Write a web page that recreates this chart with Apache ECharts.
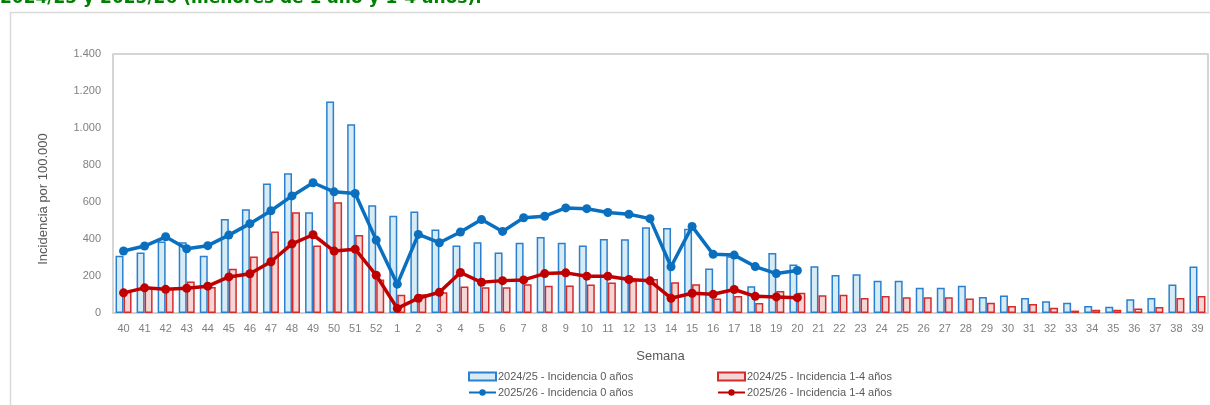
<!DOCTYPE html>
<html>
<head>
<meta charset="utf-8">
<script src="https://cdn.jsdelivr.net/npm/echarts@6/dist/echarts.min.js"></script>
<style>
html,body{margin:0;padding:0;background:#fff;}
#chart{width:1210px;height:405px;}
</style>
</head>
<body>
<div id="chart"></div>
<script>
var titleText = '2024/25 y 2025/26 (menores de 1 año y 1-4 años).';
var weeks = ['40','41','42','43','44','45','46','47','48','49','50','51','52','1','2','3','4','5','6','7','8','9','10','11','12','13','14','15','16','17','18','19','20','21','22','23','24','25','26','27','28','29','30','31','32','33','34','35','36','37','38','39'];
var yTicks = [0, 200, 400, 600, 800, 1000, 1200, 1400];
var seriesNames = ['2024/25 - Incidencia 0 años','2024/25 - Incidencia 1-4 años','2025/26 - Incidencia 0 años','2025/26 - Incidencia 1-4 años'];
var bars0_2425 = [309,327,387,383,309,508,561,700,756,544,1143,1020,582,526,548,452,365,383,327,380,411,380,365,400,398,463,459,456,241,307,145,324,262,253,206,210,175,175,136,136,147,87,94,81,63,56,38,34,74,81,154,251];
var bars14_2425 = [115,140,132,170,140,239,306,440,544,365,599,421,181,99,101,112,143,139,139,156,147,148,154,165,174,184,166,156,78,92,54,119,109,96,98,81,92,85,85,85,78,56,38,49,29,13,18,18,25,33,81,92];
var line0_2526 = [335,362,412,347,364,421,483,553,633,704,655,646,394,156,425,380,438,505,441,515,523,568,564,543,534,510,250,468,317,313,251,213,230];
var line14_2526 = [109,136,128,134,145,195,212,277,374,423,335,345,204,25,80,112,219,166,175,179,213,217,199,199,181,174,80,107,101,127,90,87,83];

var chart = echarts.init(document.getElementById('chart'), null, {renderer:'canvas'});
var labelFont = 'Liberation Sans';
function fmt(v){ return String(v).replace(/\B(?=(\d{3})+(?!\d))/g, '.'); }

var legendCommon = {orient:'vertical', top:371, itemWidth:27, itemHeight:8, itemGap:5, padding:0,
  textStyle:{fontFamily:labelFont, fontSize:11, color:'#595959', padding:[0,0,0,-3]}};

var option = {
  animation: false,
  backgroundColor: '#ffffff',
  graphic: [
    {type:'rect', left:8, top:10, shape:{x:0,y:0,width:1260,height:460}, style:{fill:'none', stroke:'#d9d9d9', lineWidth:1.5}, silent:true, z:-10},
    {type:'text', left:0, top:-10, style:{text:titleText, fill:'#008000', font:'bold 17px "DejaVu Sans"'}},
    {type:'text', x:43, y:199, rotation:Math.PI/2, style:{text:'Incidencia por 100.000', fill:'#595959', font:'13px "Liberation Sans"', align:'center', verticalAlign:'middle'}}
  ],
  grid: {left:113, right:2, top:54, bottom:92, show:true, borderColor:'#c8c8c8', borderWidth:1.5, backgroundColor:'transparent'},
  legend: [
    Object.assign({}, legendCommon, {left:468,
     data:[{name:seriesNames[0], icon:'rect'}, {name:seriesNames[2]}]}),
    Object.assign({}, legendCommon, {left:717,
     data:[{name:seriesNames[1], icon:'rect'}, {name:seriesNames[3]}]})
  ],
  xAxis: {
    type:'category', data:weeks,
    name:'Semana', nameLocation:'middle', nameGap:37,
    nameTextStyle:{fontFamily:labelFont, fontSize:13, color:'#595959'},
    axisLine:{show:true, lineStyle:{color:'#d0d0d0', width:1.5}},
    axisTick:{show:false},
    axisLabel:{interval:0, fontFamily:labelFont, fontSize:11, color:'#808080', margin:10}
  },
  yAxis: {
    type:'value', min:yTicks[0], max:yTicks[yTicks.length-1], interval:yTicks[1]-yTicks[0],
    axisLine:{show:false}, axisTick:{show:false},
    splitLine:{show:false},
    axisLabel:{fontFamily:labelFont, fontSize:11, color:'#808080', margin:12, formatter:fmt}
  },
  series: [
    {name:seriesNames[0], type:'bar', data:bars0_2425, barWidth:8, barGap:'0%',
     itemStyle:{color:'#d7ebf4', borderColor:'#2a80cf', borderWidth:1.5}, z:2},
    {name:seriesNames[1], type:'bar', data:bars14_2425, barWidth:8, barGap:'0%',
     itemStyle:{color:'#f4d6d6', borderColor:'#d42b2b', borderWidth:1.5}, z:2},
    {name:seriesNames[2], type:'line', data:line0_2526, symbol:'circle', symbolSize:9,
     lineStyle:{color:'#0a6fbf', width:3.5}, itemStyle:{color:'#0a6fbf'}, z:5},
    {name:seriesNames[3], type:'line', data:line14_2526, symbol:'circle', symbolSize:9,
     lineStyle:{color:'#c00000', width:3.5}, itemStyle:{color:'#c00000'}, z:5}
  ]
};
chart.setOption(option);
</script>
</body>
</html>
